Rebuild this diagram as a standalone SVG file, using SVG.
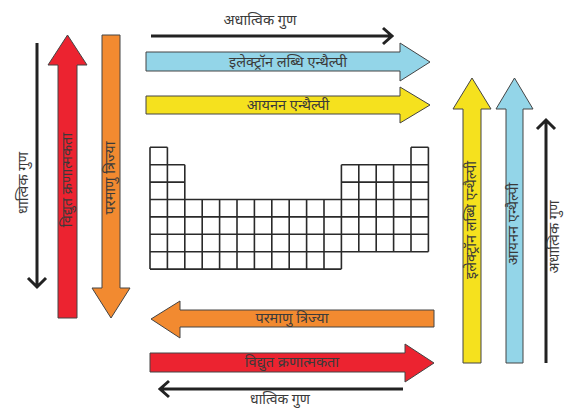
<svg xmlns="http://www.w3.org/2000/svg" width="566" height="410" viewBox="0 0 566 410">
<style>
.lbl{font-family:"Noto Sans Devanagari","Noto Sans",sans-serif;font-size:14.5px;fill:#3a3a3a;text-anchor:middle}
.arr{stroke:#444;stroke-width:1;stroke-linejoin:miter}
.blue{fill:#93d5e8}.yellow{fill:#f5e11e}.red{fill:#ec2330}.orange{fill:#f28a30}
.ln{fill:none;stroke:#222;stroke-width:3}
.grid{fill:none;stroke:#2a2a2a;stroke-width:1.6}
</style>
<rect width="566" height="410" fill="#fff"/>
<g id="periodic-table">
<path class="grid" d="M150,147.3H167.4M411,147.3H428.4M150,164.7H184.8M341.4,164.7H428.4M150,182.1H184.8M341.4,182.1H428.4M150,199.5H428.4M150,216.9H428.4M150,234.3H428.4M150,251.7H428.4M150,269.1H341.4M150,147.3V269.1M167.4,147.3V269.1M184.8,164.7V269.1M202.2,199.5V269.1M219.6,199.5V269.1M237,199.5V269.1M254.4,199.5V269.1M271.8,199.5V269.1M289.2,199.5V269.1M306.6,199.5V269.1M324,199.5V269.1M341.4,164.7V269.1M358.8,164.7V251.7M376.2,164.7V251.7M393.6,164.7V251.7M411,147.3V251.7M428.4,147.3V251.7"/>
</g>
<g id="connectors">
<g id="top-nonmetal">
<path class="ln" d="M151,36H391M383,28L392,36L383,44"/>
<text class="lbl" x="260" y="25">अधात्विक गुण</text>
</g>
<g id="top-electron-gain">
<polygon class="arr blue" points="146,52 400,52 400,43 430,62 400,81 400,71 146,71"/>
<text class="lbl" x="288" y="67">इलेक्ट्रॉन लब्धि एन्थैल्पी</text>
</g>
<g id="top-ionization">
<polygon class="arr yellow" points="146,96 400,96 400,87 430,105 400,123 400,114 146,114"/>
<text class="lbl" x="288" y="110">आयनन एन्थैल्पी</text>
</g>
<g id="bottom-radius">
<polygon class="arr orange" points="434,310 180,310 180,301 151,319 180,338 180,327 434,327"/>
<text class="lbl" x="292" y="323">परमाणु त्रिज्या</text>
</g>
<g id="bottom-electroneg">
<polygon class="arr red" points="150,353 405,353 405,344 434,363 405,382 405,372 150,372"/>
<text class="lbl" x="292" y="367">विद्युत क्रणात्मकता</text>
</g>
<g id="bottom-metal">
<path class="ln" d="M161,389H403M169,381L160,389L169,397"/>
<text class="lbl" x="280" y="404" style="font-size:14px">धात्विक गुण</text>
</g>
<g id="left-metal">
<path class="ln" d="M37,43V286M28,278L37,287L46,278"/>
<text class="lbl" transform="translate(28,183) rotate(-90)">धात्विक गुण</text>
</g>
<g id="left-electroneg">
<polygon class="arr red" points="58,318 58,65 48,65 67.5,35 87,65 77,65 77,318"/>
<text class="lbl" transform="translate(72,180) rotate(-90)">विद्युत क्रणात्मकता</text>
</g>
<g id="left-radius">
<polygon class="arr orange" points="102,35 120,35 120,288 130,288 111,318 92,288 102,288"/>
<text class="lbl" transform="translate(115,178) rotate(-90)">परमाणु त्रिज्या</text>
</g>
<g id="right-electron-gain">
<polygon class="arr yellow" points="463,363 463,109 453,109 472,78 491,109 481,109 481,363"/>
<text class="lbl" transform="translate(476,220) rotate(-90)">इलेक्ट्रॉन लब्धि एन्थैल्पी</text>
</g>
<g id="right-ionization">
<polygon class="arr blue" points="506,363 506,109 496,109 514.5,78 533,109 523,109 523,363"/>
<text class="lbl" transform="translate(518,224) rotate(-90)">आयनन एन्थैल्पी</text>
</g>
<g id="right-nonmetal">
<path class="ln" d="M546,363V121M537,129L546,120L555,129"/>
<text class="lbl" transform="translate(559,237) rotate(-90)">अधात्विक गुण</text>
</g>
</g>
</svg>
